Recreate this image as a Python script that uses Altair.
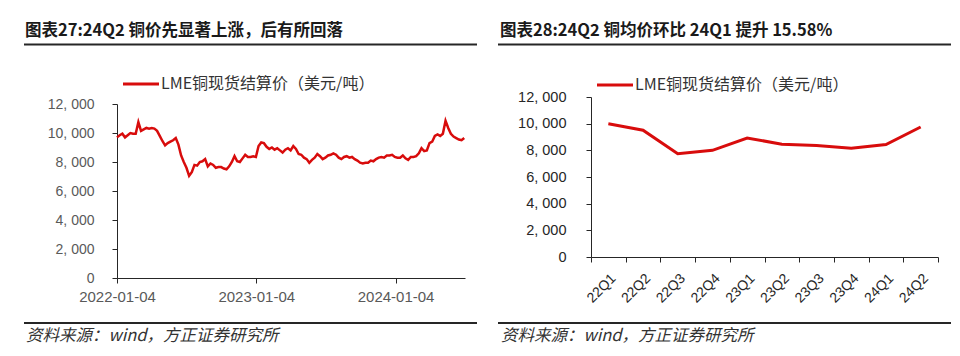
import altair as alt
import pandas as pd

# ---------------- data ----------------
# Left panel: LME copper cash settlement, weekly readings (Tuesdays) from 2022-01-04
start_date = "2022-01-04"
prices_2022 = [9700, 9850, 9950, 9700, 9850, 10000, 9950, 9950, 10750, 10150, 10250, 10350,
               10300, 10350, 10300, 10150, 9800, 9450, 9150, 9300, 9400, 9500, 9650, 9200,
               8450, 8000, 7600, 7050, 7300, 7800, 7750, 8000, 8050, 8200, 7700, 7900,
               7800, 7600, 7650, 7650, 7550, 7500, 7700, 8000, 8400, 8050, 8000, 8250,
               8500, 8350, 8350, 8400]
prices_2023 = [8350, 9100, 9350, 9300, 9050, 8900, 9000, 8850, 8950, 8800, 8650, 8850,
               8950, 8800, 9100, 8900, 8550, 8500, 8300, 8200, 7950, 8150, 8300, 8550,
               8400, 8200, 8300, 8450, 8500, 8600, 8500, 8300, 8200, 8350, 8400, 8300,
               8350, 8200, 8100, 7950, 7900, 7950, 7950, 8100, 8050, 8200, 8300, 8350,
               8300, 8450, 8450, 8500]
prices_2024 = [8350, 8300, 8300, 8450, 8250, 8150, 8350, 8350, 8400, 8600, 8950, 8750,
               8800, 9300, 9400, 9800, 9900, 9800, 9950, 10850, 10350, 9950, 9750, 9650,
               9550, 9500, 9650]
daily_prices = prices_2022 + prices_2023 + prices_2024
dates = pd.date_range(start_date, periods=len(daily_prices), freq="7D")

# Right panel: quarterly average
quarters = ["22Q1", "22Q2", "22Q3", "22Q4", "23Q1", "23Q2", "23Q3", "23Q4", "24Q1", "24Q2"]
quarter_avg = [9997, 9513, 7745, 8001, 8927, 8463, 8356, 8159, 8438, 9752]

left_title = "图表27:24Q2 铜价先显著上涨，后有所回落"
right_title = "图表28:24Q2 铜均价环比 24Q1 提升 15.58%"
series_name = "LME铜现货结算价（美元/吨）"
source_note = "资料来源：wind，方正证券研究所"
y_ticks = [0, 2000, 4000, 6000, 8000, 10000, 12000]

RED = "#D80C0C"
DARK = "#262626"
CJK = "Noto Sans CJK SC"

one = pd.DataFrame({"k": [0]})


def decor(x0, title, legend_y, white_x):
    layers = []
    # white anchor to fix the panel's top-left bound
    layers.append(alt.Chart(one).mark_rule(color="white", strokeWidth=1).encode(
        x=alt.value(white_x), x2=alt.value(white_x + 1), y=alt.value(-88)))
    layers.append(alt.Chart(one).mark_text(
        align="left", baseline="middle", font=CJK, fontSize=16.5, fontWeight="bold",
        color="#1a1a1a").encode(x=alt.value(x0), y=alt.value(-66), text=alt.value(title)))
    layers.append(alt.Chart(one).mark_rule(color=DARK, strokeWidth=2).encode(
        x=alt.value(-93), x2=alt.value(360), y=alt.value(-52.5)))
    layers.append(alt.Chart(one).mark_rule(color=RED, strokeWidth=3).encode(
        x=alt.value(6), x2=alt.value(42), y=alt.value(legend_y)))
    layers.append(alt.Chart(one).mark_text(
        align="left", baseline="middle", font=CJK, fontSize=16, color="#333333").encode(
        x=alt.value(44), y=alt.value(legend_y), text=alt.value(series_name)))
    layers.append(alt.Chart(one).mark_rule(color=DARK, strokeWidth=2).encode(
        x=alt.value(-93), x2=alt.value(360), y=alt.value(226)))
    layers.append(alt.Chart(one).mark_text(
        align="left", baseline="middle", font=CJK, fontSize=16.5, fontStyle="italic",
        color="#333333").encode(x=alt.value(x0 + 1), y=alt.value(239),
                                text=alt.value(source_note)))
    return layers


label_expr = "replace(format(datum.value, ','), ',', ', ')"

# ---------------- left panel ----------------
df_left = pd.DataFrame({"date": dates, "price": daily_prices})
left_line = alt.Chart(df_left).mark_line(color=RED, strokeWidth=2.5).encode(
    x=alt.X("date:T",
            scale=alt.Scale(domain=[alt.DateTime(year=2022, month=1, date=4),
                                    alt.DateTime(year=2024, month=7, date=4)]),
            axis=alt.Axis(title=None, values=[alt.DateTime(year=2022, month=1, date=4),
                                              alt.DateTime(year=2023, month=1, date=4),
                                              alt.DateTime(year=2024, month=1, date=4)],
                          format="%Y-%m-%d", grid=False, domainColor=DARK, tickColor=DARK,
                          tickSize=5, labelColor="#595959", labelFont="Liberation Sans",
                          labelFontSize=15, labelPadding=6, labelFlush=False)),
    y=alt.Y("price:Q",
            scale=alt.Scale(domain=[0, 12000], range=[181, 7], nice=False),
            axis=alt.Axis(title=None, values=y_ticks, grid=False, domainColor=DARK,
                          tickColor=DARK, tickSize=5, labelColor="#595959",
                          labelFont="Liberation Sans", labelFontSize=14,
                          labelPadding=18, labelExpr=label_expr)),
)
left = alt.layer(left_line, *decor(-92, left_title, -13, -108)).properties(width=348, height=181)

# ---------------- right panel ----------------
df_right = pd.DataFrame({"quarter": quarters, "avg": quarter_avg})
right_line = alt.Chart(df_right).mark_line(color=RED, strokeWidth=3).encode(
    x=alt.X("quarter:N", sort=None, bandPosition=0.5,
            scale=alt.Scale(type="band", paddingInner=0, paddingOuter=0),
            axis=alt.Axis(title=None, labelAngle=-45, tickBand="extent", grid=False,
                          domainColor=DARK, tickColor=DARK, tickSize=5,
                          labelColor="#262626", labelFont="Liberation Sans",
                          labelFontSize=14, labelPadding=9)),
    y=alt.Y("avg:Q",
            scale=alt.Scale(domain=[0, 12000], nice=False),
            axis=alt.Axis(title=None, values=y_ticks, grid=False, domainColor=DARK,
                          tickColor=DARK, tickSize=5, labelColor="#262626",
                          labelFont="Liberation Sans", labelFontSize=14.5,
                          labelPadding=20, labelExpr=label_expr)),
)
right = alt.layer(right_line, *decor(-91, right_title, -12, -93)).properties(width=347, height=160)

chart = alt.hconcat(left, right, spacing=19).properties(padding=0).configure_view(stroke=None)
chart.save("out.html", embed_options={"renderer": "svg", "actions": False})
